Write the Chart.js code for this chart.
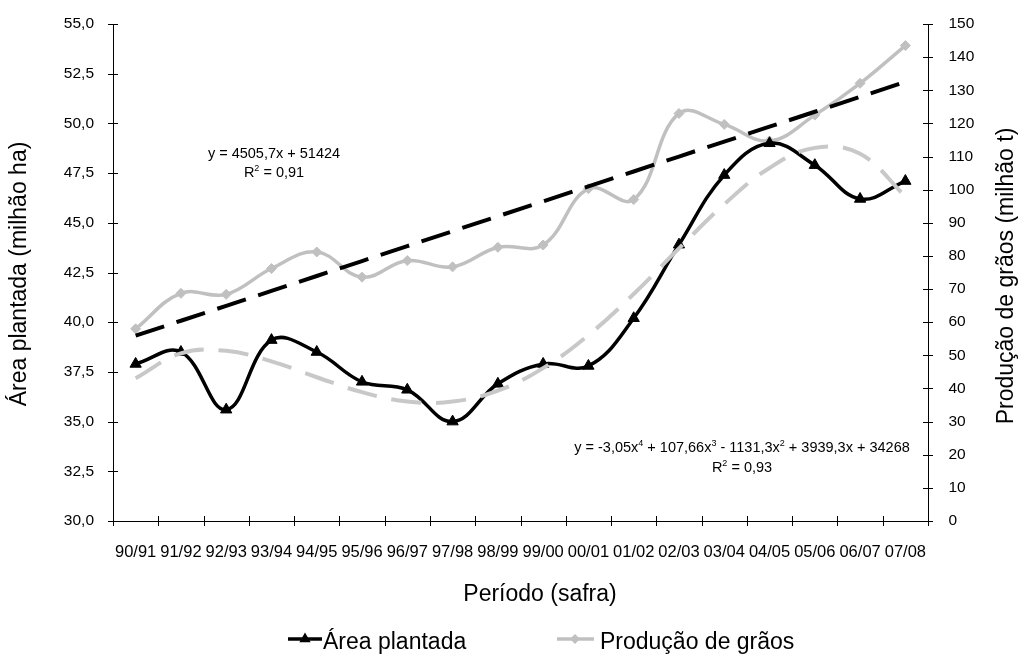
<!DOCTYPE html>
<html lang="pt">
<head>
<meta charset="utf-8">
<title>Área plantada e produção de grãos</title>
<script src="https://cdn.jsdelivr.net/npm/chart.js@4.4.0/dist/chart.umd.min.js"></script>
<style>
  html, body { margin: 0; padding: 0; background: #fff; }
  #wrap { width: 1021px; height: 656px; position: relative; }
</style>
</head>
<body>
<div id="wrap"><canvas id="grafico"></canvas></div>
<script>
var safras = ['90/91', '91/92', '92/93', '93/94', '94/95', '95/96', '96/97', '97/98', '98/99',
              '99/00', '00/01', '01/02', '02/03', '03/04', '04/05', '05/06', '06/07', '07/08'];

// milhão ha
var areaPlantada = [37.9, 38.5, 35.6, 39.1, 38.5, 37.0, 36.6, 35.0, 36.9,
                    37.9, 37.8, 40.2, 43.9, 47.4, 49.0, 47.9, 46.2, 47.1];
// milhão t
var producaoGraos = [58.0, 68.7, 68.4, 76.2, 81.2, 73.6, 78.6, 76.7, 82.6,
                     83.3, 100.3, 97.0, 123.0, 119.7, 114.7, 122.5, 132.1, 143.5];

// tendência linear da produção (y = 4505,7x + 51424, em mil t)
var tendLinear = [55.93, 60.44, 64.94, 69.45, 73.95, 78.46, 82.96, 87.47, 91.98,
                  96.48, 100.99, 105.49, 110.00, 114.50, 119.01, 123.52, 128.02, 132.53];
// tendência polinomial (4ª ordem) da área
var tendPolinomial = [37.18, 38.43, 38.56, 38.03, 37.23, 36.48, 36.01, 36.01, 36.56,
                      37.69, 39.35, 41.42, 43.71, 45.93, 47.76, 48.77, 48.47, 46.33];

var eqLinear = [['y = 4505,7x + 51424']];
var r2Linear = [['R'], ['2', 1], [' = 0,91']];
var eqPolinomial = [['y = -3,05x'], ['4', 1], [' + 107,66x'], ['3', 1], [' - 1131,3x'], ['2', 1], [' + 3939,3x + 34268']];
var r2Polinomial = [['R'], ['2', 1], [' = 0,93']];

var FONTE = '"Liberation Sans", Arial, sans-serif';
var PRETO = '#000000';
var CINZA = '#c0c0c0';

function virgula(v, casas) {
  return Number(v).toFixed(casas).replace('.', ',');
}

// texto centrado com expoentes
function textoRico(ctx, partes, cx, base, tam) {
  var larg = 0;
  partes.forEach(function (p) {
    ctx.font = (p[1] ? tam * 0.62 : tam) + 'px ' + FONTE;
    larg += ctx.measureText(p[0]).width;
  });
  var x = cx - larg / 2;
  ctx.textAlign = 'left';
  ctx.textBaseline = 'alphabetic';
  partes.forEach(function (p) {
    ctx.font = (p[1] ? tam * 0.62 : tam) + 'px ' + FONTE;
    ctx.fillText(p[0], x, p[1] ? base - tam * 0.38 : base);
    x += ctx.measureText(p[0]).width;
  });
}

function triangulo(ctx, x, y, r) {
  ctx.beginPath();
  ctx.moveTo(x, y - r);
  ctx.lineTo(x + r * 0.866, y + r * 0.5);
  ctx.lineTo(x - r * 0.866, y + r * 0.5);
  ctx.closePath();
  ctx.fill();
}

function losango(ctx, x, y, r) {
  ctx.beginPath();
  ctx.moveTo(x, y - r);
  ctx.lineTo(x + r, y);
  ctx.lineTo(x, y + r);
  ctx.lineTo(x - r, y);
  ctx.closePath();
  ctx.fill();
}

var extras = {
  id: 'extras',
  afterDraw: function (chart) {
    var ctx = chart.ctx;
    var area = chart.chartArea;
    var sx = chart.scales.x, sa = chart.scales.yArea, sp = chart.scales.yProd;
    ctx.save();

    // marcas de escala cruzando os eixos
    ctx.strokeStyle = PRETO;
    ctx.lineWidth = 1;
    ctx.beginPath();
    sa.ticks.forEach(function (t, i) {
      var y = Math.round(sa.getPixelForTick(i)) + 0.5;
      ctx.moveTo(area.left - 5, y); ctx.lineTo(area.left + 5, y);
    });
    sp.ticks.forEach(function (t, i) {
      var y = Math.round(sp.getPixelForTick(i)) + 0.5;
      ctx.moveTo(area.right - 5, y); ctx.lineTo(area.right + 5, y);
    });
    for (var i = 0; i <= safras.length; i++) {
      var x = Math.round(sx.getPixelForValue(i - 0.5)) + 0.5;
      ctx.moveTo(x, area.bottom - 5); ctx.lineTo(x, area.bottom + 5);
    }
    ctx.stroke();

    // títulos dos eixos
    ctx.fillStyle = PRETO;
    ctx.font = '23px ' + FONTE;
    ctx.textAlign = 'center';
    ctx.textBaseline = 'middle';
    ctx.fillText('Período (safra)', 540, 595);
    ctx.save();
    ctx.translate(20, 274);
    ctx.rotate(-Math.PI / 2);
    ctx.fillText('Área plantada (milhão ha)', 0, 0);
    ctx.restore();
    ctx.save();
    ctx.translate(1007, 276);
    ctx.rotate(-Math.PI / 2);
    ctx.fillText('Produção de grãos (milhão t)', 0, 0);
    ctx.restore();

    // equações das linhas de tendência
    textoRico(ctx, eqLinear, 274, 157.5, 14.5);
    textoRico(ctx, r2Linear, 274, 177, 14.5);
    textoRico(ctx, eqPolinomial, 742, 451.5, 14.5);
    textoRico(ctx, r2Polinomial, 742, 472, 14.5);

    // legenda
    var ds = chart.data.datasets;
    var yl = 639;
    ctx.lineWidth = 3.5;
    ctx.strokeStyle = ds[0].borderColor;
    ctx.fillStyle = ds[0].borderColor;
    ctx.beginPath(); ctx.moveTo(288, yl); ctx.lineTo(322, yl); ctx.stroke();
    triangulo(ctx, 305, yl, 6.5);
    ctx.strokeStyle = ds[1].borderColor;
    ctx.fillStyle = ds[1].borderColor;
    ctx.beginPath(); ctx.moveTo(557, yl); ctx.lineTo(594, yl); ctx.stroke();
    losango(ctx, 575, yl, 5);
    ctx.fillStyle = PRETO;
    ctx.font = '23px ' + FONTE;
    ctx.textAlign = 'left';
    ctx.textBaseline = 'middle';
    ctx.fillText(ds[0].label, 323, yl + 4);
    ctx.fillText(ds[1].label, 600, yl + 4);
    ctx.restore();
  }
};

new Chart(document.getElementById('grafico'), {
  type: 'line',
  data: {
    labels: safras,
    datasets: [
      {
        label: 'Área plantada',
        data: areaPlantada,
        yAxisID: 'yArea',
        borderColor: PRETO,
        backgroundColor: PRETO,
        borderWidth: 3.5,
        tension: 0.4,
        pointStyle: 'triangle',
        pointRadius: 6.5,
        pointBorderWidth: 1,
        order: 2
      },
      {
        label: 'Produção de grãos',
        data: producaoGraos,
        yAxisID: 'yProd',
        borderColor: CINZA,
        backgroundColor: CINZA,
        borderWidth: 3.5,
        tension: 0.4,
        pointStyle: 'rectRot',
        pointRadius: 5,
        pointBorderWidth: 1,
        order: 3
      },
      {
        label: 'Linear (Produção de grãos)',
        data: tendLinear,
        yAxisID: 'yProd',
        borderColor: PRETO,
        borderWidth: 4,
        borderDash: [30, 13],
        pointRadius: 0,
        tension: 0,
        order: 1
      },
      {
        label: 'Polinômio (Área plantada)',
        data: tendPolinomial,
        yAxisID: 'yArea',
        borderColor: '#c8c8c8',
        borderWidth: 4,
        borderDash: [30, 15],
        pointRadius: 0,
        tension: 0.4,
        order: 1
      }
    ]
  },
  options: {
    responsive: true,
    maintainAspectRatio: false,
    animation: false,
    layout: { padding: { top: 24, left: 0, right: 0, bottom: 0 } },
    plugins: {
      legend: { display: false },
      tooltip: { enabled: false }
    },
    scales: {
      x: {
        offset: true,
        grid: { display: false },
        border: { display: true, color: PRETO, width: 1 },
        ticks: {
          autoSkip: false, maxRotation: 0, minRotation: 0, padding: 14,
          color: PRETO, font: { family: FONTE, size: 16.5 }
        },
        afterFit: function (s) { s.height = 135; }
      },
      yArea: {
        position: 'left',
        min: 30, max: 55,
        grid: { display: false },
        border: { display: true, color: PRETO, width: 1 },
        ticks: {
          stepSize: 2.5, padding: 11, color: PRETO,
          font: { family: FONTE, size: 15.5 },
          callback: function (v) { return virgula(v, 1); }
        },
        afterFit: function (s) { s.width = 113; }
      },
      yProd: {
        position: 'right',
        min: 0, max: 150,
        grid: { display: false },
        border: { display: true, color: PRETO, width: 1 },
        ticks: {
          stepSize: 10, padding: 12.5, color: PRETO,
          font: { family: FONTE, size: 15.5 }
        },
        afterFit: function (s) { s.width = 93; }
      }
    }
  },
  plugins: [extras]
});
</script>
</body>
</html>
